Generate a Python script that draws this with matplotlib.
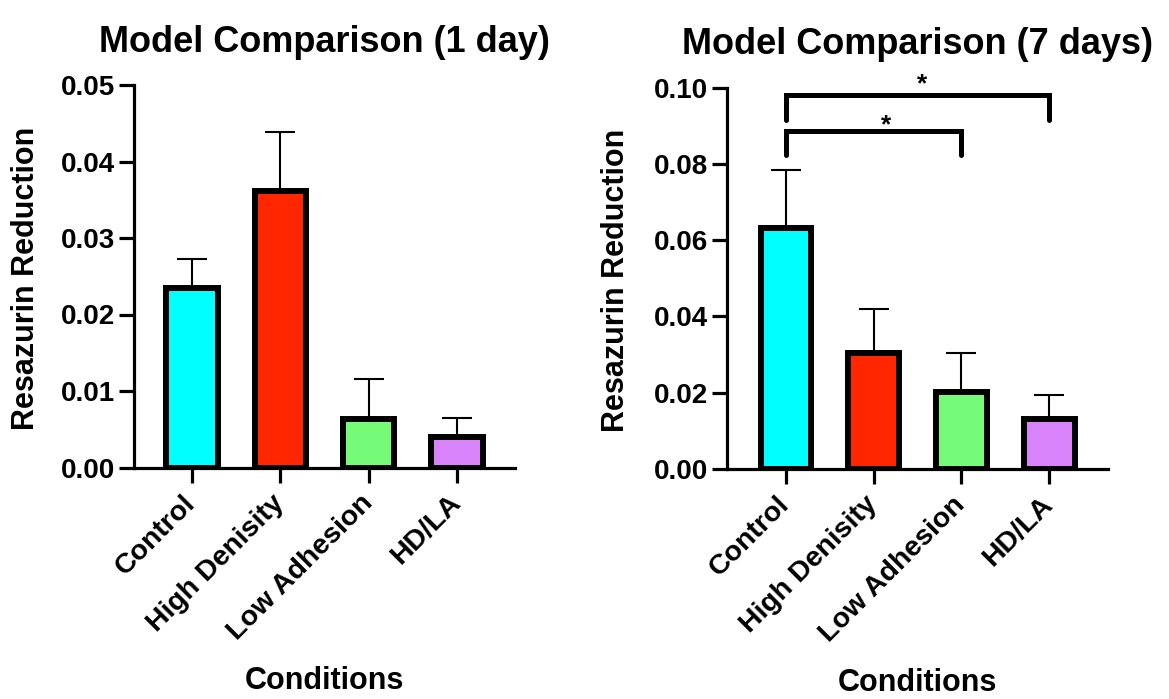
import numpy as np
import matplotlib
matplotlib.use("Agg")
import matplotlib.pyplot as plt

plt.rcParams['font.family'] = ['Liberation Sans', 'DejaVu Sans']
plt.rcParams['font.weight'] = 'bold'

categories = ["Control", "High Denisity", "Low Adhesion", "HD/LA"]
colors = ["#00FFFF", "#FF2600", "#76FB78", "#D883FA"]

day1_mean = [0.0234, 0.0361, 0.0063, 0.0040]
day1_sd = [0.0038, 0.0078, 0.0053, 0.0025]
day1_ticks = [0.00, 0.01, 0.02, 0.03, 0.04, 0.05]

day7_mean = [0.0633, 0.0305, 0.0202, 0.0131]
day7_sd = [0.0151, 0.0115, 0.0103, 0.0064]
day7_ticks = [0.00, 0.02, 0.04, 0.06, 0.08, 0.10]

# significance brackets on 7-day panel: (from index, to index, bar height, leg bottom)
sig_pairs = [(0, 3), (0, 2)]
sig_top = [0.0980, 0.0885]
sig_leg = [0.0914, 0.0823]
sig_label = ["*", "*"]

W, H = 1169, 699
fig = plt.figure(figsize=(W / 100, H / 100), dpi=100)

def px_axes(x0, x1, y_top, y_bot):
    return fig.add_axes([x0 / W, 1 - y_bot / H, (x1 - x0) / W, (y_bot - y_top) / H])

ax1 = px_axes(134, 515, 85, 467.5)
ax2 = px_axes(727, 1108, 87.5, 469)

def draw(ax, means, sds, ticks, title, xlim):
    x = np.arange(len(categories))
    ax.errorbar(x, means, yerr=[np.zeros(len(means)), sds], fmt='none',
                ecolor='black', elinewidth=1.5, capsize=11, capthick=1.5, zorder=1)
    ax.bar(x, means, width=0.58, color=colors, edgecolor='black', linewidth=4.3, zorder=2)
    ax.set_xlim(*xlim)
    ax.set_ylim(ticks[0], ticks[-1])
    ax.set_yticks(ticks)
    ax.set_yticklabels([f"{t:.2f}" for t in ticks], fontsize=20, fontweight='bold')
    ax.set_xticks(x)
    ax.set_xticklabels(categories, rotation=45, ha='right', va='center',
                       rotation_mode='anchor', fontsize=20.5, fontweight='bold')
    for s in ['top', 'right']:
        ax.spines[s].set_visible(False)
    for s in ['left', 'bottom']:
        ax.spines[s].set_linewidth(2.3)
    ax.tick_params(axis='both', direction='out', length=10.8, width=2.3, pad=3)
    ax.tick_params(axis='x', pad=12)
    ax.set_title(title, fontsize=26, fontweight='bold', pad=24)

draw(ax1, day1_mean, day1_sd, day1_ticks, "Model Comparison (1 day)", (-0.657, 3.658))
draw(ax2, day7_mean, day7_sd, day7_ticks, "Model Comparison (7 days)", (-0.673, 3.672))

# axis labels
fig.text(324.5 / W, 1 - 689 / H, "Conditions", ha='center', va='baseline', fontsize=22, fontweight='bold')
fig.text(917.5 / W, 1 - 691 / H, "Conditions", ha='center', va='baseline', fontsize=22, fontweight='bold')
fig.text(26 / W, 1 - 278 / H, "Resazurin Reduction", rotation=90, ha='center', va='center',
         fontsize=22, fontweight='bold')
fig.text(616 / W, 1 - 280 / H, "Resazurin Reduction", rotation=90, ha='center', va='center',
         fontsize=22, fontweight='bold')

# significance brackets
star_dx = [3, 9]
star_dy = [-1, -4]
for (i, j), top, leg, lab, dx, dy in zip(sig_pairs, sig_top, sig_leg, sig_label, star_dx, star_dy):
    ax2.plot([i, i, j, j], [leg, top, top, leg], color='black', lw=3.6, clip_on=False,
             solid_capstyle='round', solid_joinstyle='miter', zorder=5)
    ax2.annotate(lab, xy=((i + j) / 2, top), xytext=(dx, dy), textcoords='offset points',
                 ha='center', va='bottom', fontsize=19, fontweight='bold', annotation_clip=False)

fig.savefig("out.png", dpi=100)
